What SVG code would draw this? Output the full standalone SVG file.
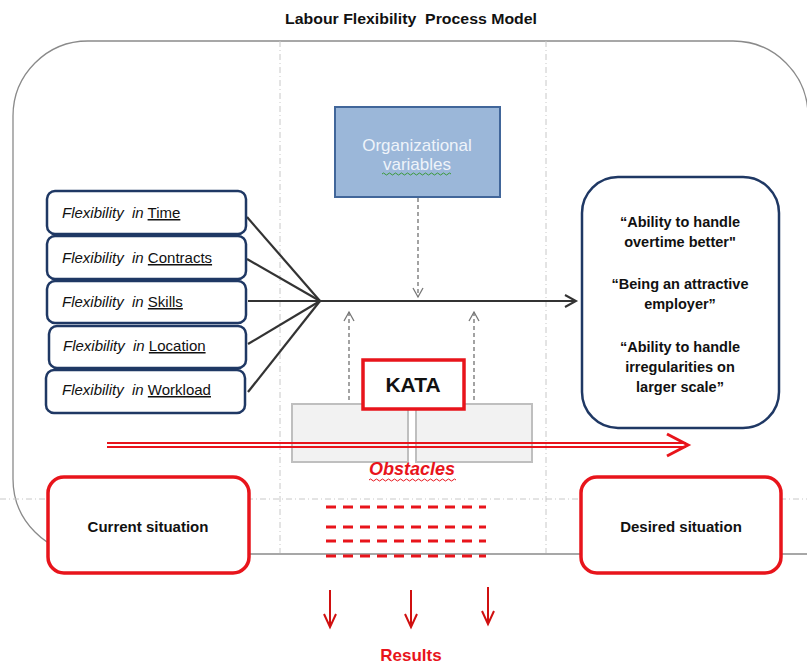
<svg xmlns="http://www.w3.org/2000/svg" width="807" height="666" viewBox="0 0 807 666">
<defs>
<style>
.t{font-family:"Liberation Sans",Arial,sans-serif;}
.flex{fill:#fff;stroke:#1f3864;stroke-width:2.5}
.ft{font-size:15px;fill:#111;white-space:pre}
.red{fill:#fff;stroke:#e8141b;stroke-width:3.5}
.grey{fill:#f2f2f2;stroke:#bfbfbf;stroke-width:2}
.guide{stroke:#c8c8c8;stroke-width:1;stroke-dasharray:6 3 1 3;fill:none}
.dash{stroke:#666;stroke-width:1.2;stroke-dasharray:4 3;fill:none}
.b{font-weight:bold}
.q{font-size:14.5px;font-weight:bold;fill:#111;text-anchor:middle}
.rd{stroke:#e8141b;stroke-width:3;stroke-dasharray:10 7;fill:none}
.dn{stroke:#d01010;stroke-width:2;fill:none}
</style>
<marker id="open" markerWidth="14" markerHeight="14" refX="10" refY="6" orient="auto" markerUnits="userSpaceOnUse">
<path d="M1,1 L10,6 L1,11" fill="none" stroke="#777" stroke-width="1.3"/>
</marker>
<marker id="main" markerWidth="16" markerHeight="16" refX="13" refY="7" orient="auto" markerUnits="userSpaceOnUse">
<path d="M2,1 L13,7 L2,13" fill="none" stroke="#333" stroke-width="2"/>
</marker>
</defs>
<rect width="807" height="666" fill="#fff"/>

<g id="frame">
<path d="M88,41 H733 A75,75 0 0 1 808,116 V554 H88 A75,75 0 0 1 13,479 V116 A75,75 0 0 1 88,41 Z" fill="none" stroke="#8a8a8a" stroke-width="1.3"/>
<line class="guide" x1="280" y1="41" x2="280" y2="553"/>
<line class="guide" x1="546" y1="41" x2="546" y2="553"/>
<line class="guide" x1="0" y1="499" x2="807" y2="499"/>
</g>

<text class="t b" x="411" y="24" font-size="14" text-anchor="middle" fill="#111" textLength="252" lengthAdjust="spacingAndGlyphs" xml:space="preserve">Labour Flexibility  Process Model</text>

<g id="connectors">
<g stroke="#333" stroke-width="2.2" fill="none">
<line x1="247" y1="217" x2="320" y2="301"/>
<line x1="247" y1="259" x2="320" y2="301"/>
<line x1="248" y1="301" x2="320" y2="301"/>
<line x1="248" y1="344" x2="320" y2="301"/>
<line x1="248" y1="392" x2="320" y2="301"/>
<line x1="320" y1="301" x2="576" y2="301" marker-end="url(#main)"/>
</g>
<line class="dash" x1="418" y1="198" x2="418" y2="297" marker-end="url(#open)"/>
<line class="dash" x1="349" y1="407" x2="349" y2="312" marker-end="url(#open)"/>
<line class="dash" x1="474" y1="407" x2="474" y2="312" marker-end="url(#open)"/>
</g>

<g id="grey-left"><rect class="grey" x="292" y="404" width="116" height="58"/></g>
<g id="grey-right"><rect class="grey" x="416" y="404" width="116" height="58"/></g>

<g id="obstacle-arrow">
<line x1="107" y1="443" x2="686" y2="443" stroke="#e8141b" stroke-width="1.8"/>
<line x1="107" y1="447" x2="686" y2="447" stroke="#e8141b" stroke-width="1.8"/>
<path d="M667,434 L688,445 L667,456" fill="none" stroke="#e8141b" stroke-width="3"/>
</g>

<g id="flex-time"><rect class="flex" x="47" y="191" width="199" height="43" rx="8"/>
<text class="t ft" x="62" y="218" xml:space="preserve"><tspan font-style="italic">Flexibility  in</tspan> <tspan text-decoration="underline">Time</tspan></text></g>
<g id="flex-contracts"><rect class="flex" x="47" y="236" width="199" height="43" rx="8"/>
<text class="t ft" x="62" y="263" xml:space="preserve"><tspan font-style="italic">Flexibility  in</tspan> <tspan text-decoration="underline">Contracts</tspan></text></g>
<g id="flex-skills"><rect class="flex" x="47" y="281" width="199" height="42" rx="8"/>
<text class="t ft" x="62" y="307" xml:space="preserve"><tspan font-style="italic">Flexibility  in</tspan> <tspan text-decoration="underline">Skills</tspan></text></g>
<g id="flex-location"><rect class="flex" x="49" y="326" width="197" height="42" rx="8"/>
<text class="t ft" x="63" y="351" xml:space="preserve"><tspan font-style="italic">Flexibility  in</tspan> <tspan text-decoration="underline">Location</tspan></text></g>
<g id="flex-workload"><rect class="flex" x="46" y="370" width="199" height="43" rx="8"/>
<text class="t ft" x="62" y="395" xml:space="preserve"><tspan font-style="italic">Flexibility  in</tspan> <tspan text-decoration="underline">Workload</tspan></text></g>

<g id="org-vars">
<rect x="335" y="107" width="165" height="90" fill="#9bb7d9" stroke="#41669a" stroke-width="2"/>
<text class="t" x="417" y="151" font-size="17" fill="#eef3fa" text-anchor="middle">Organizational</text>
<text class="t" x="417" y="170" font-size="17" fill="#eef3fa" text-anchor="middle">variables</text>
<path d="M382,174 q1.5,-2 3,0 t3,0 t3,0 t3,0 t3,0 t3,0 t3,0 t3,0 t3,0 t3,0 t3,0 t3,0 t3,0 t3,0 t3,0 t3,0 t3,0 t3,0 t3,0 t3,0 t3,0 t3,0 t3,0" fill="none" stroke="#3a9a3a" stroke-width="1"/>
</g>

<g id="kata">
<rect class="red" x="363" y="360" width="101" height="49"/>
<text class="t b" x="413" y="392" font-size="21" fill="#111" text-anchor="middle">KATA</text>
</g>

<g id="obstacles">
<text class="t b" x="412" y="475" font-size="18" font-style="italic" fill="#e8141b" text-anchor="middle">Obstacles</text>
<path d="M369,480 q1.5,-2 3,0 t3,0 t3,0 t3,0 t3,0 t3,0 t3,0 t3,0 t3,0 t3,0 t3,0 t3,0 t3,0 t3,0 t3,0 t3,0 t3,0 t3,0 t3,0 t3,0 t3,0 t3,0 t3,0 t3,0 t3,0 t3,0 t3,0 t3,0 t3,0" fill="none" stroke="#e8141b" stroke-width="1"/>
</g>

<g id="outcomes">
<rect x="582" y="177" width="197" height="251" rx="36" fill="#fff" stroke="#1f3864" stroke-width="2.5"/>
<text class="t q" x="680" y="227">“Ability to handle</text>
<text class="t q" x="680" y="247">overtime better"</text>
<text class="t q" x="680" y="289">“Being an attractive</text>
<text class="t q" x="680" y="309">employer”</text>
<text class="t q" x="680" y="352">“Ability to handle</text>
<text class="t q" x="680" y="372">irregularities on</text>
<text class="t q" x="680" y="392">larger scale”</text>
</g>

<g id="current">
<rect class="red" x="48" y="477" width="201" height="96" rx="16"/>
<text class="t b" x="148" y="532" font-size="15" fill="#111" text-anchor="middle">Current situation</text>
</g>
<g id="desired">
<rect class="red" x="581" y="477" width="200" height="96" rx="16"/>
<text class="t b" x="681" y="532" font-size="15" fill="#111" text-anchor="middle">Desired situation</text>
</g>

<g id="result-lines">
<line class="rd" x1="326" y1="507" x2="486" y2="507"/>
<line class="rd" x1="326" y1="527" x2="486" y2="527"/>
<line class="rd" x1="326" y1="541" x2="486" y2="541"/>
<line class="rd" x1="326" y1="556" x2="486" y2="556"/>
</g>

<g id="result-arrows">
<line class="dn" x1="330" y1="590" x2="330" y2="626"/>
<path class="dn" d="M324,614 L330,627 L336,614"/>
<line class="dn" x1="411" y1="590" x2="411" y2="626"/>
<path class="dn" d="M405,614 L411,627 L417,614"/>
<line class="dn" x1="488" y1="587" x2="488" y2="623"/>
<path class="dn" d="M482,611 L488,624 L494,611"/>
</g>

<g id="results">
<text class="t b" x="411" y="661" font-size="17" fill="#e8141b" text-anchor="middle">Results</text>
</g>
</svg>
